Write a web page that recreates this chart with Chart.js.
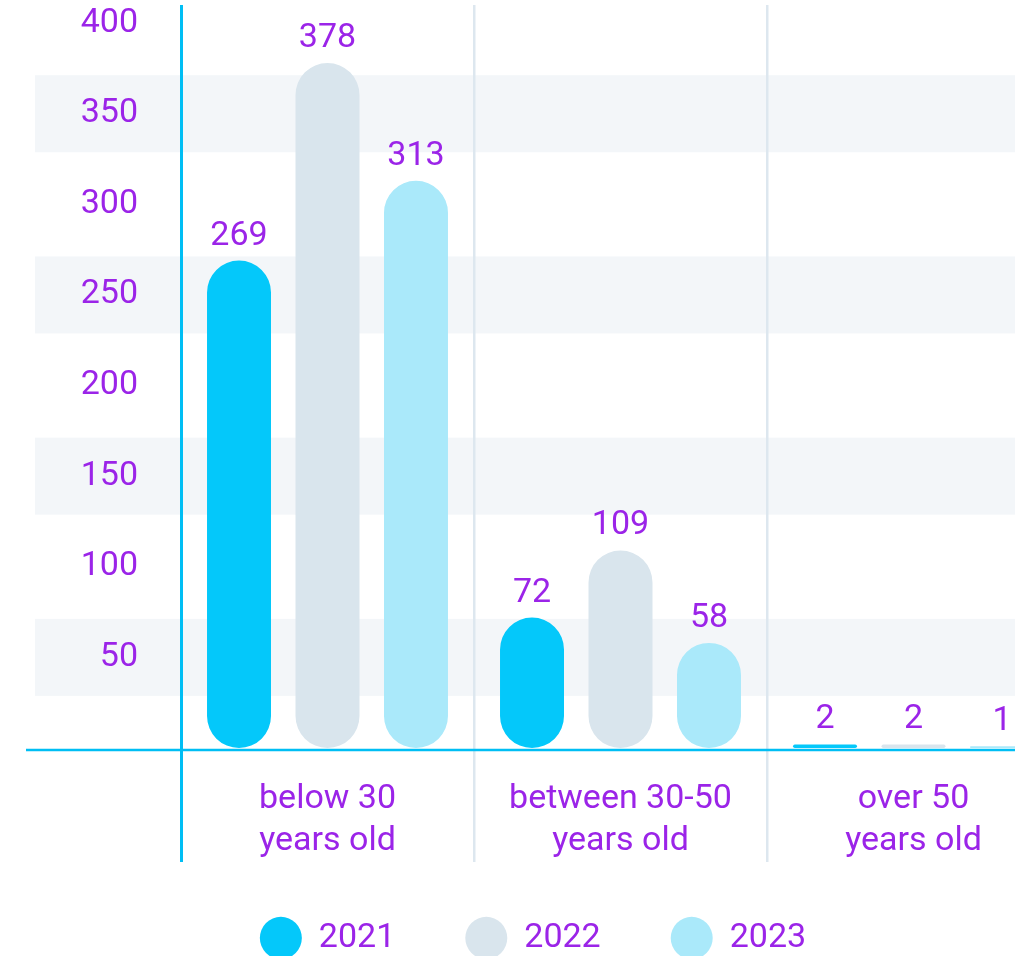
<!DOCTYPE html>
<html>
<head>
<meta charset="utf-8">
<title>Employees by age group</title>
<script src="https://cdn.jsdelivr.net/npm/chart.js@4.4.1/dist/chart.umd.min.js"></script>
<style>
    html, body { margin: 0; padding: 0; background: #fff; overflow: hidden; }
    #wrap { width: 1015px; height: 956px; overflow: hidden; }
</style>
</head>
<body>
<div id="wrap"><canvas id="ageChart" width="1060" height="975"></canvas></div>
<script>
// Chart data
const categories = [['below 30', 'years old'], ['between 30-50', 'years old'], ['over 50', 'years old']];
const years = ['2021', '2022', '2023'];
const values2021 = [269, 72, 2];
const values2022 = [378, 109, 2];
const values2023 = [313, 58, 1];
const yTicks = [50, 100, 150, 200, 250, 300, 350, 400];

// Colours
const PURPLE = '#9b24e8';
const CYAN = '#04c8fa';
const GREY = '#d9e5ed';
const LIGHT_CYAN = '#aae9fa';
const AXIS_CYAN = '#00bef4';
const SEPARATOR = '#dde7ef';
const BAND = '#f3f6f9';
const LEFT_PAD = 6;

Chart.defaults.font.family = 'Roboto, "Helvetica Neue", Arial, sans-serif';
Chart.defaults.font.size = 34;

// Light horizontal bands behind every other tick label
const bandsPlugin = {
    id: 'bands',
    beforeDraw(chart) {
        const { ctx, chartArea, scales: { y } } = chart;
        ctx.save();
        ctx.fillStyle = BAND;
        yTicks.forEach((v, i) => {
            if (i % 2) return;
            const py = y.getPixelForValue(v);
            ctx.fillRect(35, py - 38.5, chartArea.right - 35, 77);
        });
        ctx.restore();
    }
};

// Zero line, running out into the tick label area
const baseLinePlugin = {
    id: 'baseLine',
    afterDatasetsDraw(chart) {
        const { ctx, chartArea, scales: { y } } = chart;
        const py = y.getPixelForValue(0) + 2;
        ctx.save();
        ctx.strokeStyle = AXIS_CYAN;
        ctx.lineWidth = 2.5;
        ctx.beginPath();
        ctx.moveTo(26, py);
        ctx.lineTo(chartArea.right, py);
        ctx.stroke();
        ctx.restore();
    }
};

// Value above each bar
const valueLabelsPlugin = {
    id: 'valueLabels',
    afterDatasetsDraw(chart) {
        const { ctx } = chart;
        ctx.save();
        ctx.font = '34px ' + Chart.defaults.font.family;
        ctx.fillStyle = PURPLE;
        ctx.textAlign = 'center';
        ctx.textBaseline = 'alphabetic';
        chart.data.datasets.forEach((ds, di) => {
            chart.getDatasetMeta(di).data.forEach((bar, i) => {
                ctx.fillText(String(ds.data[i]), bar.x, bar.y - 16);
            });
        });
        ctx.restore();
    }
};

// Pull the legend a little closer to the axis labels
const legendNudgePlugin = {
    id: 'legendNudge',
    afterLayout(chart) {
        chart.legend.top -= 10;
        chart.legend.bottom -= 10;
    }
};

function makeDataset(label, data, color) {
    return {
        label: label,
        data: data,
        backgroundColor: color,
        borderWidth: 0,
        borderRadius: 100,
        borderSkipped: false,
        categoryPercentage: 0.906,
        barPercentage: 0.723
    };
}

const ctx = document.getElementById('ageChart').getContext('2d');
new Chart(ctx, {
    type: 'bar',
    data: {
        labels: categories,
        datasets: [
            makeDataset(years[0], values2021, CYAN),
            makeDataset(years[1], values2022, GREY),
            makeDataset(years[2], values2023, LIGHT_CYAN)
        ]
    },
    options: {
        responsive: false,
        animation: false,
        layout: { padding: { left: LEFT_PAD, right: 0, top: 5, bottom: 0 } },
        plugins: {
            tooltip: { enabled: false },
            legend: {
                position: 'bottom',
                labels: {
                    color: PURPLE,
                    font: { size: 34 },
                    usePointStyle: true,
                    pointStyle: 'circle',
                    boxHeight: 30,
                    pointStyleWidth: 42,
                    padding: 70
                }
            }
        },
        scales: {
            x: {
                offset: true,
                afterFit(scale) {
                    scale.height = 113;
                    scale.paddingLeft = 0;
                    scale.paddingRight = 0;
                },
                grid: {
                    offset: true,
                    color: c => c.index === 0 ? AXIS_CYAN : SEPARATOR,
                    lineWidth: c => c.index === 0 ? 3 : 2.5,
                    drawTicks: true,
                    tickLength: 114
                },
                border: { display: false },
                ticks: {
                    color: PURPLE,
                    font: { size: 34, lineHeight: 42 / 34 },
                    padding: -84,
                    maxRotation: 0,
                    autoSkip: false
                }
            },
            y: {
                min: 0,
                max: 410,
                afterBuildTicks(scale) {
                    scale.ticks = yTicks.map(v => ({ value: v }));
                },
                afterFit(scale) {
                    scale.width = 181 - LEFT_PAD;
                    scale.paddingTop = 0;
                    scale.paddingBottom = 0;
                },
                grid: { display: false, drawTicks: false },
                border: { display: false },
                ticks: { color: PURPLE, font: { size: 34 }, padding: 43 }
            }
        }
    },
    plugins: [bandsPlugin, baseLinePlugin, valueLabelsPlugin, legendNudgePlugin]
});
</script>
</body>
</html>
